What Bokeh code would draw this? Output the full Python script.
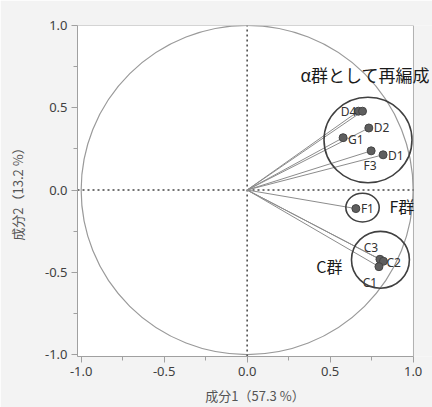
from bokeh.plotting import figure
from bokeh.models import Label, ColumnDataSource, FixedTicker, LinearAxis
from bokeh.embed import file_html
from bokeh.resources import INLINE
from bokeh.core.properties import value

# Loadings of each variable on components 1 and 2
names = ["D4", "", "D2", "G1", "F3", "D1", "F1", "C3", "C2", "C1"]
comp1 = [0.670, 0.695, 0.733, 0.578, 0.747, 0.819, 0.655, 0.800, 0.821, 0.794]
comp2 = [0.479, 0.479, 0.377, 0.318, 0.238, 0.214, -0.113, -0.421, -0.433, -0.466]

ticks = [-1.0, -0.5, 0.0, 0.5, 1.0]
minor = [-0.75, -0.25, 0.25, 0.75]

JP = "Noto Sans CJK JP"
TXT = "Noto Sans"

X0, X1 = -1.022, 1.002
Y0, Y1 = -1.012, 1.0

# the canvas runs to the right edge so that group captions are not clipped;
# the white plotting box is drawn as a rectangle
p = figure(width=432, height=407, output_backend="svg", toolbar_location=None,
           x_range=(X0, 1.1166), y_range=(Y0, Y1),
           x_axis_location=None, y_axis_location=None,
           min_border_left=77, min_border_right=0, min_border_top=25, min_border_bottom=45)
p.border_fill_color = "#f3f3f3"
p.background_fill_color = "#f3f3f3"
p.outline_line_color = None
p.xgrid.visible = False
p.ygrid.visible = False

p.quad(left=[X0], right=[X1], bottom=[Y0], top=[Y1], fill_color="white",
       line_color="#b0b0b0", line_width=1)

for loc, label in (("below", "成分1（57.3 %）"), ("left", "成分2（13.2 %）")):
    ax = LinearAxis(ticker=FixedTicker(ticks=ticks, minor_ticks=minor), axis_label=label)
    ax.major_label_overrides = {t: f"{t:.1f}" for t in ticks}
    ax.axis_line_color = "#a0a0a0"
    ax.major_tick_line_color = "#a0a0a0"
    ax.minor_tick_line_color = "#a0a0a0"
    ax.major_tick_out = 6
    ax.major_tick_in = 0
    ax.minor_tick_out = 4
    ax.minor_tick_in = 0
    ax.major_label_standoff = 4
    ax.major_label_text_font = TXT
    ax.major_label_text_font_size = "13px"
    ax.major_label_text_color = "#404040"
    ax.axis_label_text_font = JP
    ax.axis_label_text_font_size = "13px"
    ax.axis_label_text_font_style = "normal"
    ax.axis_label_text_color = "#555555"
    p.add_layout(ax, loc)
    if loc == "below":
        ax.bounds = (X0, X1)
        ax.axis_label_standoff = 7
    else:
        ax.bounds = (Y0, Y1)
        ax.axis_label_standoff = 15

# unit circle
p.ellipse(x=[0], y=[0], width=[2], height=[2], fill_color=None,
          line_color="#9a9a9a", line_width=1.2)

# reference axes through origin
p.segment(x0=[X0, 0], y0=[0, Y0], x1=[X1, 0], y1=[0, Y1], line_color="#444444",
          line_dash="2 3", line_width=1.5)

# rays from origin
n = len(names)
p.segment(x0=[0] * n, y0=[0] * n, x1=comp1, y1=comp2, line_color="#8c8c8c", line_width=1)

src = ColumnDataSource(dict(x=comp1, y=comp2, name=names))
p.scatter("x", "y", source=src, size=8, fill_color="#5e5e5e", line_color="#454545")

# point labels, placed around each point
offsets = {
    "D4": (-2, 0, "right", "middle"),
    "D2": (5, 0, "left", "middle"),
    "G1": (5, 2, "left", "middle"),
    "F3": (-1, 6, "center", "top"),
    "D1": (5, 1, "left", "middle"),
    "F1": (5, 0, "left", "middle"),
    "C3": (-9, -3, "center", "bottom"),
    "C2": (3, 1, "left", "middle"),
    "C1": (-9, 7, "center", "top"),
}
for nm, x, y in zip(names, comp1, comp2):
    if nm not in offsets:
        continue
    dx, dy, al, bl = offsets[nm]
    p.text(x=[x], y=[y], text=[nm], x_offset=dx, y_offset=dy, text_align=al,
           text_baseline=bl, text_font=value(TXT), text_font_size="12px",
           text_color="#333333")

# hand-drawn grouping circles (centre x, centre y, width, height)
for cx, cy, w, h in ((0.728, 0.304, 0.53, 0.52),
                     (0.695, -0.107, 0.201, 0.174),
                     (0.803, -0.424, 0.349, 0.346)):
    p.ellipse(x=[cx], y=[cy], width=[w], height=[h], fill_color=None,
              line_color="#404040", line_width=1.6)

for txt, x, y, fs in (("α群として再編成", 0.321, 0.701, "17px"),
                      ("F群", 0.857, -0.099, "16px"),
                      ("C群", 0.417, -0.463, "16px")):
    p.add_layout(Label(x=x, y=y, text=txt, text_font=JP, text_font_size=fs,
                       text_color="#1a1a1a", text_baseline="middle"))

open("out.html", "w").write(file_html(p, INLINE))
